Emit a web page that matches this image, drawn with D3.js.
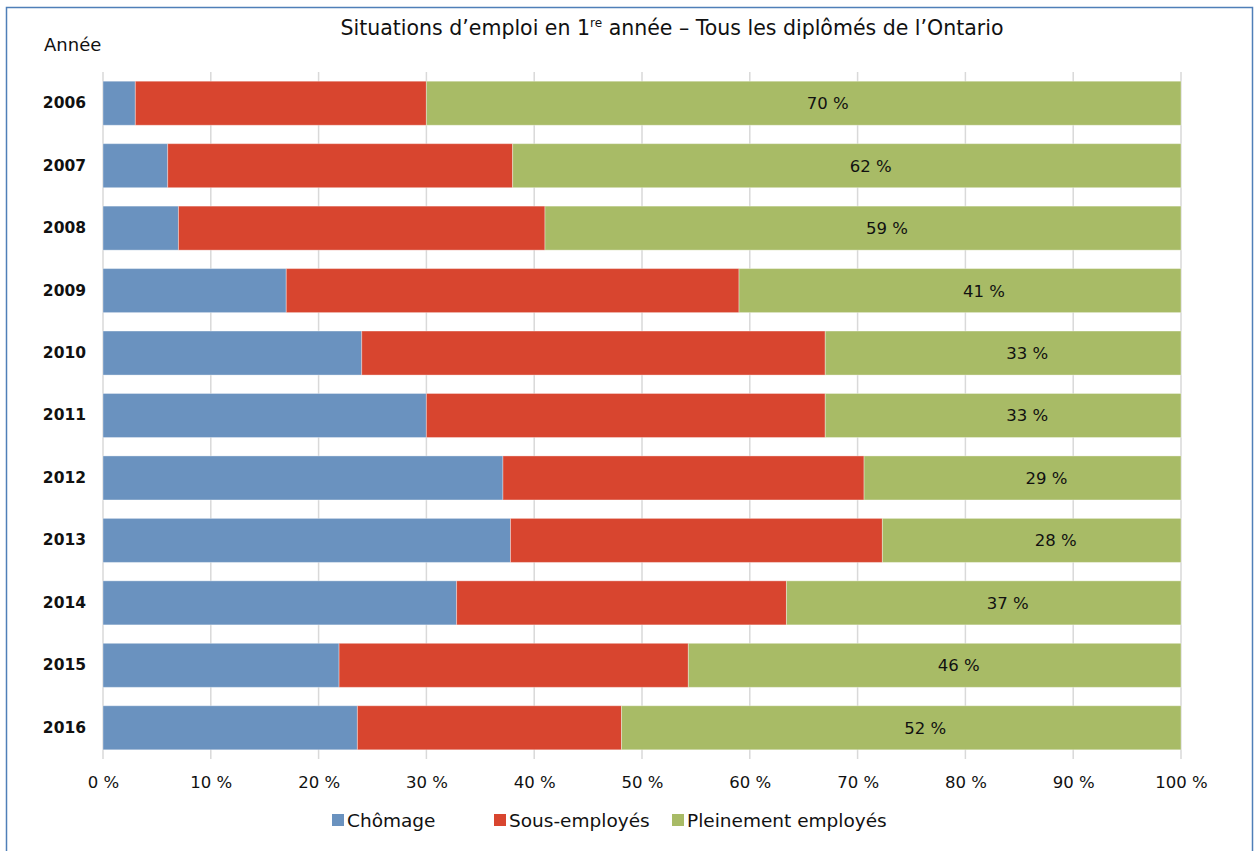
<!DOCTYPE html>
<html><head><meta charset="utf-8">
<script src="https://cdn.jsdelivr.net/npm/d3@7"></script>
<style>
html,body{margin:0;padding:0;background:#fff;}
svg{display:block;font-family:"DejaVu Sans",sans-serif;}
</style></head>
<body>
<svg id="chart" width="1255" height="851"></svg>
<script>
const years = ["2006","2007","2008","2009","2010","2011","2012","2013","2014","2015","2016"];
const chomage = [3, 6, 7, 17, 24, 30, 37.1, 37.8, 32.8, 21.9, 23.6];
const sousEmployes = [27, 32, 34, 42, 43, 37, 33.5, 34.5, 30.6, 32.4, 24.5];
const pleinement = [70, 62, 59, 41, 33, 33, 29.4, 27.7, 36.6, 45.7, 51.9];
const seriesNames = ["Chômage", "Sous-employés", "Pleinement employés"];
const colors = ["#6a92bf", "#d8452f", "#a8bb66"];
const xTicks = [0,10,20,30,40,50,60,70,80,90,100];

const svg = d3.select("#chart");
// frame
svg.append("rect").attr("x",6.5).attr("y",7.5).attr("width",1246).attr("height",850)
  .attr("fill","none").attr("stroke","#4f7fb8").attr("stroke-width",1.5);

const x = d3.scaleLinear().domain([0,100]).range([103,1181]);
const y = d3.scaleBand().domain(years).range([72,759]).paddingInner(0.295).paddingOuter(0.1475);

// gridlines
svg.append("g").selectAll("line").data(xTicks).join("line")
  .attr("x1",d=>x(d)).attr("x2",d=>x(d)).attr("y1",72).attr("y2",759)
  .attr("stroke","#d9d9d9").attr("stroke-width",1.5);

const data = years.map((yr,i)=>({year:yr, c:chomage[i], s:sousEmployes[i], p:pleinement[i]}));
const stack = d3.stack().keys(["c","s","p"])(data);

svg.append("g").selectAll("g").data(stack).join("g")
  .attr("fill",(d,i)=>colors[i])
  .selectAll("rect").data(d=>d).join("rect")
  .attr("x",d=>x(d[0])).attr("width",d=>x(d[1])-x(d[0]))
  .attr("y",d=>y(d.data.year)).attr("height",y.bandwidth())
  .attr("stroke","#ffffff").attr("stroke-opacity",0.35).attr("stroke-width",1);

// green labels
const gs = stack[2];
svg.append("g").selectAll("text").data(gs).join("text")
  .attr("x",d=>(x(d[0])+x(d[1]))/2 + 24)
  .attr("y",d=>y(d.data.year)+y.bandwidth()/2)
  .attr("dy","0.36em").attr("text-anchor","middle")
  .attr("font-size",16.5).attr("fill","#111")
  .text(d=>Math.round(d.data.p)+" %");

// y axis labels
const yAxis = d3.axisLeft(y).tickSize(0).tickPadding(0);
const yg = svg.append("g").attr("transform","translate(86,0)").call(yAxis);
yg.select(".domain").remove();
yg.selectAll("text").attr("font-size",15.5).attr("font-weight","bold").attr("fill","#111")
  .attr("font-family","DejaVu Sans, sans-serif");

// x axis
const xAxis = d3.axisBottom(x).tickValues(xTicks).tickSize(0).tickPadding(0).tickFormat(d=>d+" %");
const xg = svg.append("g").attr("transform","translate(0,776)").call(xAxis);
xg.select(".domain").remove();
xg.selectAll("text").attr("font-size",16.5).attr("fill","#111").attr("font-family","DejaVu Sans, sans-serif");

// title
const title = svg.append("text").attr("x",672).attr("y",35).attr("text-anchor","middle")
  .attr("font-size",20.5).attr("fill","#111");
title.append("tspan").text("Situations d’emploi en 1");
title.append("tspan").attr("font-size",12).attr("dy",-8).text("re");
title.append("tspan").attr("dy",8).text(" année – Tous les diplômés de l’Ontario");

svg.append("text").attr("x",44).attr("y",51).attr("font-size",18).attr("fill","#111").text("Année");

// legend
const legX = [332, 494, 672];
const lg = svg.append("g").selectAll("g").data(seriesNames).join("g")
  .attr("transform",(d,i)=>`translate(${legX[i]},814)`);
lg.append("rect").attr("width",12).attr("height",12).attr("fill",(d,i)=>colors[i]);
lg.append("text").attr("x",15).attr("y",6).attr("dy","0.36em").attr("font-size",18.5).attr("fill","#111").text(d=>d);
</script>
</body></html>
